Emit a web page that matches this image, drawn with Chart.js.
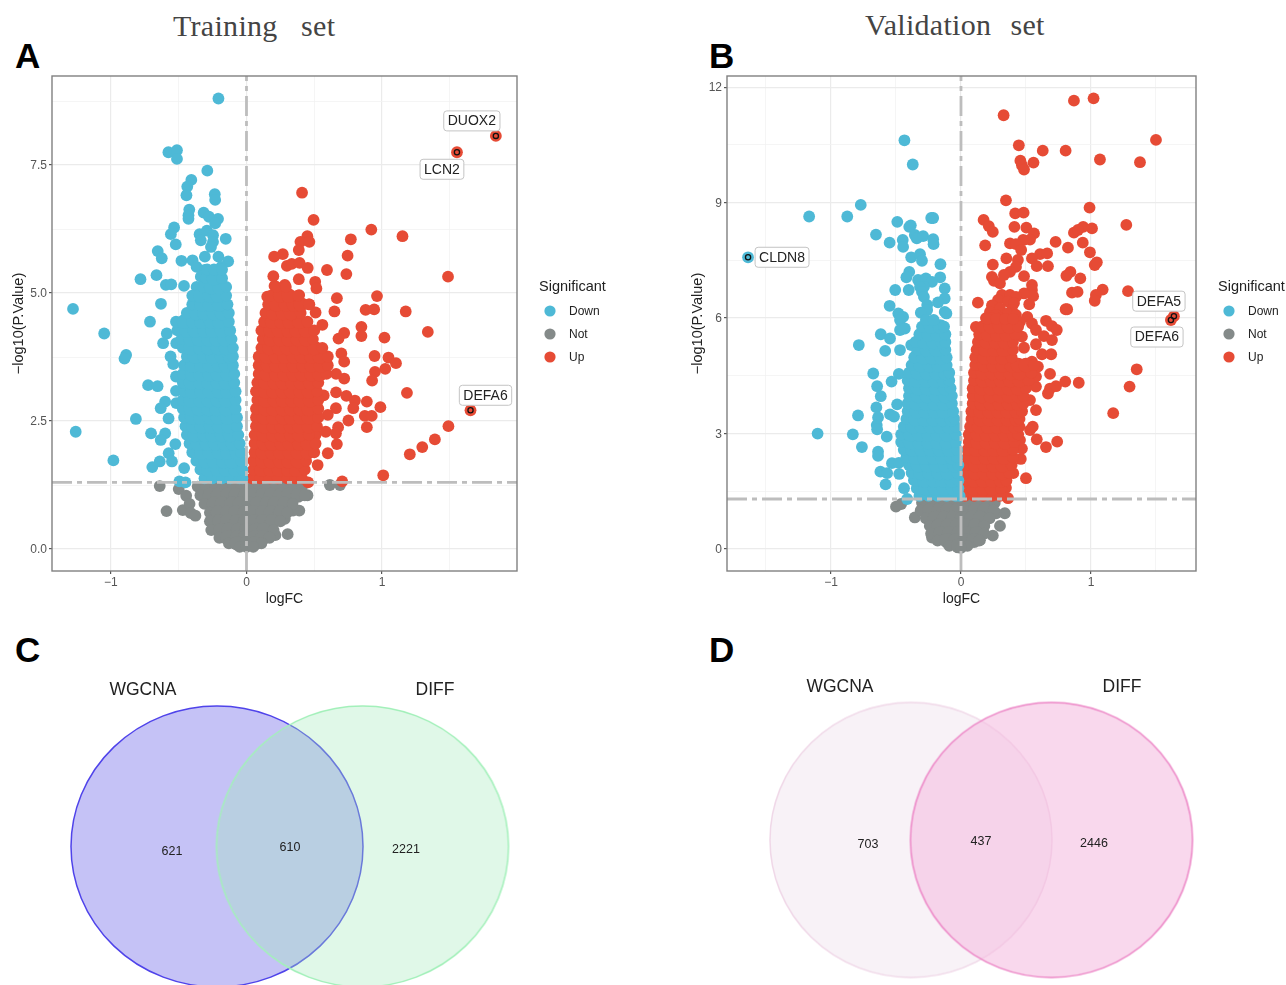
<!DOCTYPE html>
<html>
<head>
<meta charset="utf-8">
<script src="https://cdn.jsdelivr.net/npm/chart.js@4"></script>
<style>
  html, body { margin: 0; padding: 0; background: #fff; }
  body { position: relative; width: 1286px; height: 985px; overflow: hidden; font-family: "Liberation Sans", sans-serif; }
  canvas { position: absolute; }
  .set-title { position: absolute; font-family: "Liberation Serif", serif; font-size: 30px; letter-spacing: .3px; color: #444; white-space: pre; line-height: 34px; }
  .panel { position: absolute; font-weight: bold; font-size: 35px; line-height: 35px; color: #000; }
</style>
</head>
<body>
<div class="set-title" style="left:173px;top:9px">Training   set</div>
<div class="set-title" style="left:865px;top:8px;word-spacing:-1.4px">Validation   set</div>
<div class="panel" style="left:15px;top:38px">A</div>
<div class="panel" style="left:709px;top:38px">B</div>
<div class="panel" style="left:15px;top:632px">C</div>
<div class="panel" style="left:709px;top:632px">D</div>

<canvas id="volcanoA" width="640" height="608" style="left:0;top:0"></canvas>
<canvas id="volcanoB" width="626" height="608" style="left:660px;top:0"></canvas>
<canvas id="vennC" width="640" height="355" style="left:0;top:630px"></canvas>
<canvas id="vennD" width="626" height="355" style="left:660px;top:630px"></canvas>

<script>
const sigLevels = ["Down", "Not", "Up"];
const sigColors = ["#4eb9d6", "#848a89", "#e64b35"];

// training set, single points [logFC, -log10P]
const trainDown = [[-.207,8.8],[-.576,7.75],[-.513,7.79],[-.513,7.62],[-.289,7.39],[-.407,7.21],[-.437,7.08],[-.443,6.91],[-.234,6.93],[-.231,6.82],[-.422,6.63],[-.428,6.52],[-.428,6.45],[-.316,6.57],[-.277,6.49],[-.21,6.45],[-.231,6.36],[-.534,6.28],[-.558,6.15],[-.346,6.15],[-.292,6.22],[-.247,6.13],[-.153,6.06],[-.337,6.03],[-.247,6],[-.522,5.95],[-.262,5.9],[-.655,5.82],[-.625,5.68],[-.48,5.63],[-.398,5.64],[-.307,5.71],[-.207,5.71],[-.135,5.62],[-.368,5.51],[-.307,5.45],[-.186,5.51],[-.337,5.32],[-.782,5.27],[-.664,5.35],[-.595,5.16],[-.555,5.17],[-.461,5.14],[-.368,5.12],[-.2,5.19],[-.631,4.79],[-1.28,4.69],[-.712,4.44],[-1.05,4.21],[-.588,4.21],[-.615,4.02],[-.518,4.02],[-.888,3.79],[-.9,3.72],[-.56,3.76],[-.54,3.61],[-.726,3.2],[-.656,3.18],[-.52,3.37],[-.52,3.09],[-.6,2.88],[-.633,2.75],[-.518,2.85],[-.816,2.54],[-.575,2.55],[-1.26,2.29],[-.704,2.26],[-.6,2.26],[-.633,2.13],[-.525,2.05],[-.574,1.87],[-.982,1.73],[-.64,1.71],[-.695,1.6],[-.55,1.71],[-.46,1.58],[-.495,1.32],[-.45,1.3]];
const trainUp = [[.41,6.96],[.495,6.43],[.921,6.24],[1.151,6.11],[.77,6.05],[.449,6.11],[.398,6],[.464,6],[.386,5.84],[.268,5.76],[.204,5.71],[.746,5.73],[.298,5.53],[.334,5.57],[.392,5.59],[.452,5.49],[.594,5.45],[.737,5.37],[1.487,5.32],[.198,5.33],[.386,5.27],[.507,5.22],[.516,5.09],[.283,5.16],[.207,5.14],[.667,4.9],[.963,4.94],[.649,4.64],[.879,4.67],[.942,4.68],[1.175,4.64],[.153,4.93],[.298,4.99],[.389,4.96],[.464,4.78],[.51,4.62],[.56,4.38],[.848,4.34],[.848,4.16],[1.338,4.24],[1.018,4.13],[.721,4.22],[.679,4.11],[.7,3.82],[.721,3.66],[.945,3.77],[1.048,3.74],[1.103,3.63],[1.024,3.52],[.948,3.46],[.927,3.29],[.721,3.33],[.661,3.42],[1.184,3.05],[.661,3.06],[.737,2.99],[.8,2.9],[.788,2.75],[.888,2.88],[.988,2.77],[.873,2.6],[.924,2.6],[.752,2.51],[.888,2.38],[1.49,2.4],[1.39,2.14],[1.297,1.99],[1.205,1.85],[1.009,1.44],[.706,1.32],[.455,1.3],[.667,2.05],[.6,1.87],[.525,1.64],[.676,2.38],[.51,2.23],[.585,2.29],[.66,2.26],[.6,2.62],[.66,2.75],[.57,3]];
const trainNot = [[-.64,1.23],[.615,1.25],[.69,1.25],[-.5,1.17],[-.445,1.04],[-.59,.74],[-.47,.76],[-.42,.88],[-.41,.7],[-.377,.65],[.39,.75],[.343,.75],[.45,1.05],[.283,.59],[.304,.29],[.213,.27]];

// training set, crowded middle of each cloud: [-log10P, logFC, logFC, ...]
const trainDownRows = [
  [1.38,-.31,-.25,-.18,-.12,-.05,-.03],[1.55,-.34,-.28,-.21,-.15,-.08,-.03],[1.72,-.37,-.30,-.24,-.17,-.11,-.04],
  [1.89,-.40,-.33,-.27,-.20,-.14,-.07,-.04],[2.06,-.42,-.36,-.29,-.23,-.16,-.10,-.05],[2.23,-.44,-.38,-.31,-.25,-.18,-.12,-.06],
  [2.40,-.45,-.39,-.33,-.26,-.20,-.13,-.07],[2.57,-.46,-.40,-.34,-.27,-.21,-.14,-.07],[2.74,-.47,-.41,-.35,-.28,-.22,-.15,-.08],
  [2.91,-.47,-.41,-.34,-.28,-.21,-.15,-.08],[3.08,-.46,-.40,-.33,-.27,-.20,-.14,-.08],[3.25,-.47,-.41,-.34,-.28,-.21,-.15,-.09],
  [3.42,-.47,-.40,-.34,-.27,-.21,-.14,-.09],[3.59,-.46,-.40,-.33,-.27,-.20,-.15,-.10],[3.76,-.44,-.38,-.31,-.25,-.18,-.12,-.10],
  [3.93,-.47,-.41,-.34,-.28,-.21,-.15,-.10],[4.10,-.48,-.41,-.35,-.28,-.22,-.16,-.11],[4.27,-.51,-.44,-.38,-.31,-.25,-.18,-.12],
  [4.44,-.52,-.46,-.39,-.33,-.26,-.20,-.13],[4.61,-.44,-.37,-.31,-.24,-.18,-.13],[4.78,-.40,-.33,-.27,-.20,-.14],
  [4.95,-.40,-.34,-.27,-.21,-.15],[5.12,-.32,-.26,-.20,-.15],[5.29,-.30,-.24,-.18],[5.46,-.29,-.24,-.18]
];
const trainUpRows = [
  [1.38,.04,.10,.17,.23,.30,.36,.41],[1.55,.05,.11,.18,.24,.31,.37,.43],[1.72,.05,.12,.18,.25,.31,.38,.44],
  [1.89,.06,.12,.19,.25,.32,.38,.45,.50],[2.06,.06,.13,.19,.26,.32,.39,.45,.51],[2.23,.06,.13,.20,.26,.33,.39,.46],
  [2.40,.07,.13,.20,.26,.33,.39,.46,.52],[2.57,.07,.13,.20,.27,.33,.40,.46,.53],[2.74,.07,.14,.20,.27,.33,.40,.46,.53],
  [2.91,.08,.14,.21,.27,.34,.40,.47,.53],[3.08,.07,.14,.20,.27,.33,.40,.46,.52],[3.25,.08,.14,.21,.27,.34,.40,.47,.53],
  [3.42,.09,.15,.22,.28,.35,.41,.48,.54,.59],[3.59,.09,.16,.22,.29,.35,.42,.48,.55,.60],[3.76,.09,.15,.22,.28,.35,.41,.48,.54,.60],
  [3.93,.11,.17,.24,.30,.37,.43,.50,.56],[4.10,.12,.18,.25,.31,.38,.44,.49],[4.27,.11,.18,.24,.31,.37,.44,.50],
  [4.44,.13,.19,.26,.32,.39,.45],[4.61,.14,.20,.27,.33,.40],[4.78,.16,.22,.29,.35,.40,.46],[4.95,.18,.25,.31,.38],[5.12,.22,.29]
];
const trainNotRows = [
  [1.22,-.36,-.30,-.23,-.17,-.10,-.04,.03,.09,.16,.22,.29,.35,.41],[1.05,-.34,-.27,-.21,-.14,-.08,-.01,.05,.12,.18,.25,.31,.38,.43],
  [.88,-.31,-.24,-.18,-.11,-.05,.02,.08,.15,.21,.28,.34],[.71,-.27,-.21,-.14,-.08,-.01,.05,.12,.18,.25,.30],
  [.54,-.27,-.20,-.14,-.07,-.01,.06,.12,.19,.25],[.37,-.26,-.19,-.13,-.06,0,.07,.13,.20],
  [.22,-.20,-.14,-.07,-.01,.06,.12,.17],[.11,-.13,-.07,0,.06,.11],[.04,-.05,0,.05]
];

// validation set
const validDown = [[-1.638,7.58],[-1.168,8.64],[-.875,8.64],[-.771,8.94],[-.435,10.62],[-.371,9.99],[-.49,8.5],[-.398,8.37],[-.386,8.41],[-.229,8.6],[-.214,8.6],[-.654,8.17],[-.549,7.96],[-.448,8.03],[-.445,7.85],[-.355,8.16],[-.34,8.07],[-.291,8.13],[-.214,8.05],[-.211,7.92],[-.383,7.58],[-.315,7.66],[-.3,7.49],[-.158,7.4],[-.398,7.2],[-.42,7.06],[-.33,6.99],[-.27,7.03],[-.16,7.06],[-.223,6.94],[-.285,6.81],[-.315,6.81],[-.3,6.68],[-.285,6.55],[-.125,6.77],[-.125,6.51],[-.177,6.41],[-.506,6.73],[-.402,6.73],[-.549,6.32],[-.482,6.12],[-.445,6.03],[-.26,6.34],[-.26,6.21],[-.309,6.14],[-.125,6.16],[-.112,6.12],[-.617,5.58],[-.546,5.47],[-.786,5.3],[-.583,5.15],[-.469,5.17],[-.675,4.56],[-.478,4.55],[-.534,4.35],[-.645,4.23],[-.617,3.97],[-.651,3.68],[-.491,3.76],[-.792,3.47],[-.638,3.42],[-.546,3.5],[-.515,3.44],[-.648,3.22],[-.645,3.11],[-1.103,3],[-.832,2.98],[-.571,2.92],[-.762,2.65],[-.638,2.53],[-.638,2.42],[-.531,2.23],[-.478,2.24],[-.62,2.01],[-.568,1.97],[-.475,1.95],[-.58,1.68],[-.438,1.58],[-.414,1.3],[-.469,5.95],[-.469,5.69],[-.432,5.73],[-.383,5.3],[-.346,5.04],[-.362,1.79]];
const validUp = [[.328,11.27],[.869,11.65],[1.02,11.71],[1.5,10.63],[.445,10.49],[.629,10.35],[.805,10.35],[.457,10.09],[.558,10.04],[1.069,10.12],[1.377,10.05],[.469,9.97],[.485,9.86],[.346,9.06],[.989,8.87],[.417,8.72],[.482,8.74],[.174,8.55],[.214,8.39],[.245,8.24],[.411,8.37],[.503,8.35],[.562,8.2],[1.272,8.42],[.94,8.37],[.869,8.22],[.9,8.29],[1.008,8.33],[.531,8.04],[.478,8.03],[.377,7.94],[.423,7.92],[.186,7.89],[.728,7.98],[.937,7.96],[.823,7.83],[.992,7.71],[.463,7.77],[.608,7.66],[.663,7.68],[.546,7.55],[.349,7.55],[.438,7.51],[.245,7.39],[.583,7.35],[.669,7.35],[.423,7.33],[.377,7.2],[1.029,7.38],[1.045,7.45],[.842,7.2],[.811,7.1],[.918,7.03],[.485,7.09],[.238,7.07],[.254,6.97],[.3,6.9],[.33,7.12],[.546,6.86],[.546,6.73],[1.09,6.74],[1.285,6.7],[.854,6.66],[.897,6.68],[1.038,6.6],[1.029,6.45],[.555,6.57],[.485,6.64],[.13,6.4],[.525,6.36],[.805,6.23],[.817,6.23],[.315,6.6],[.377,6.6],[.423,6.55],[.285,6.47],[.362,6.43],[.408,6.39],[.238,6.33],[.3,6.25],[.392,6.21],[.223,6.16],[.269,6.08],[.362,6.12],[.423,6.08],[.192,6],[.238,6],[.3,6],[.51,6.03],[.654,5.93],[.454,5.9],[.546,5.86],[.577,5.69],[.7,5.79],[.737,5.69],[.638,5.53],[.7,5.43],[.577,5.32],[.469,5.52],[.485,5.23],[.623,5.06],[.694,5.06],[.115,5.77],[.685,4.55],[.802,4.35],[.906,4.32],[.731,4.23],[.685,4.17],[.669,4.04],[.577,4.22],[.577,4.48],[.592,4.74],[.546,4.87],[.531,3.87],[.577,3.61],[.552,3.18],[.531,3.09],[.583,2.85],[.654,2.65],[.74,2.79],[.46,2.34],[.402,1.97],[.5,1.84],[.346,1.59],[.362,1.32],[1.171,3.53],[1.297,4.22],[1.352,4.67],[.469,2.61],[.454,2.83]];
const validNot = [[-.5,1.1],[-.46,1.17],[-.355,.82],[.337,.93],[.3,.6],[.245,.35],[.146,.23],[-.223,.3],[.27,.93]];

const validDownRows = [
  [1.38,-.32,-.25,-.18,-.11,-.04,-.01],[1.58,-.34,-.27,-.20,-.13,-.06,-.02],[1.78,-.35,-.28,-.21,-.14,-.07,-.02],
  [1.98,-.38,-.31,-.24,-.17,-.10,-.03],[2.18,-.40,-.33,-.26,-.19,-.12,-.05,-.02],[2.38,-.42,-.35,-.28,-.21,-.14,-.07,-.03],
  [2.58,-.44,-.37,-.30,-.23,-.16,-.09,-.03],[2.78,-.46,-.39,-.32,-.25,-.18,-.11,-.04],[2.98,-.46,-.39,-.32,-.25,-.18,-.11,-.04],
  [3.18,-.44,-.37,-.30,-.23,-.16,-.09,-.04],[3.38,-.42,-.35,-.28,-.21,-.14,-.07,-.05],[3.58,-.41,-.34,-.27,-.20,-.13,-.06],
  [3.78,-.41,-.34,-.27,-.20,-.13,-.07],[3.98,-.40,-.33,-.26,-.19,-.12,-.07],[4.18,-.40,-.33,-.26,-.19,-.12,-.08],
  [4.38,-.41,-.34,-.27,-.20,-.13,-.09],[4.58,-.40,-.33,-.26,-.19,-.12,-.09],[4.78,-.38,-.31,-.24,-.17,-.11],
  [4.98,-.36,-.29,-.22,-.15,-.11],[5.18,-.33,-.26,-.19,-.12],[5.38,-.35,-.28,-.21,-.14,-.12],[5.58,-.32,-.25,-.18,-.12],
  [5.78,-.30,-.23,-.16,-.13],[5.95,-.27,-.21]
];
const validUpRows = [
  [1.38,.03,.10,.17,.24,.30],[1.58,.03,.10,.17,.24,.31],[1.78,.03,.10,.17,.24,.31,.35],[1.98,.04,.11,.18,.25,.32,.37],
  [2.18,.04,.11,.18,.25,.32,.39],[2.38,.05,.12,.19,.26,.33,.40],[2.58,.05,.12,.19,.26,.33,.40],[2.78,.06,.13,.20,.27,.34,.41],
  [2.98,.06,.13,.20,.27,.34,.41,.44],[3.18,.07,.14,.21,.28,.35,.42,.45],[3.38,.08,.15,.22,.29,.36,.43,.45],[3.58,.08,.15,.22,.29,.36,.43,.47],
  [3.78,.09,.16,.23,.30,.37,.44,.48],[3.98,.09,.16,.23,.30,.37,.44,.48],[4.18,.09,.16,.23,.30,.37,.44,.50],[4.38,.10,.17,.24,.31,.38,.45,.52],
  [4.58,.10,.17,.24,.31,.38,.45,.54],[4.78,.11,.18,.25,.32,.39,.44,.50,.56],[4.98,.11,.18,.25,.32,.39],[5.18,.12,.19,.26,.33,.40],
  [5.38,.13,.20,.27,.34,.40],[5.58,.14,.21,.28,.35,.42],[5.78,.16,.23,.30,.37,.44],[5.98,.20,.27,.34,.40]
];
const validNotRows = [
  [1.2,-.30,-.23,-.16,-.09,-.02,.05,.12,.19,.26],[1.0,-.31,-.24,-.17,-.10,-.03,.04,.11,.18,.25],[.8,-.27,-.20,-.13,-.06,.01,.08,.15,.22],
  [.6,-.24,-.17,-.10,-.03,.04,.11,.18],[.4,-.23,-.16,-.09,-.02,.05,.12,.18],[.22,-.18,-.11,-.04,.03,.10,.14],[.08,-.09,-.02,.05],[.03,0]
];

// labelled genes: name, logFC, -log10P
const trainGenes = [["DUOX2",1.84,8.07],["LCN2",1.553,7.75],["DEFA6",1.653,2.71]];
const validGenes = [["CLDN8",-1.638,7.58],["DEFA5",1.638,6.05],["DEFA6",1.615,5.95]];
// where each label box sits from its point, in pixels
const trainGeneOffsets = [[-24,-15],[-15,17],[15,-15]];
const validGeneOffsets = [[34,0],[-15,-15],[-14,17]];

const logFCCutoff = 0;
const pCutoff = 1.3;

const trainXTicks = [-1,0,1], trainXMinor = [-.5,.5,1.5];
const trainYTicks = [0,2.5,5,7.5], trainYMinor = [1.25,3.75,6.25,8.75];
const validXTicks = [-1,0,1], validXMinor = [-1.5,-.5,.5,1.5];
const validYTicks = [0,3,6,9,12], validYMinor = [1.5,4.5,7.5,10.5];

// venn
const vennSets = ["WGCNA", "DIFF"];
const vennCCounts = [621, 610, 2221];
const vennDCounts = [703, 437, 2446];

const dotSize = 5.9;
const coreSize = 7.4; // overplotted middle of a cloud, closes the gaps between estimated points

const toPoints = arr => arr.map(([x, y]) => ({x, y}));
const geneToPoints = arr => arr.map(g => ({x: g[1], y: g[2]}));
const rowsToPoints = rows => rows.flatMap(([y, ...xs], r) => xs.map((x, i) => ({
  x, y, core: r > 0 && r < rows.length - 1 && i > 0 && i < xs.length - 1
})));

const boxPlugin = {
  id: "panelExtras",
  afterDraw(chart, args, opts) {
    const {ctx, chartArea: a, scales} = chart;
    ctx.save();
    ctx.strokeStyle = "#808080";
    ctx.lineWidth = 1.4;
    ctx.strokeRect(a.left, a.top, a.right - a.left, a.bottom - a.top);

    // gene label boxes
    ctx.font = "14px 'Liberation Sans'";
    ctx.textAlign = "center";
    ctx.textBaseline = "middle";
    opts.genes.forEach((g, i) => {
      const px = scales.x.getPixelForValue(g[1]) + opts.offsets[i][0];
      const py = scales.y.getPixelForValue(g[2]) + opts.offsets[i][1];
      const w = ctx.measureText(g[0]).width + 8;
      ctx.beginPath();
      ctx.roundRect(px - w / 2, py - 10, w, 20, 3);
      ctx.fillStyle = "#fff";
      ctx.fill();
      ctx.strokeStyle = "#c4c4c4";
      ctx.lineWidth = 1;
      ctx.stroke();
      ctx.fillStyle = "#222";
      ctx.fillText(g[0], px, py + .5);
    });

    // legend to the right of the panel
    ctx.textAlign = "left";
    ctx.fillStyle = "#222";
    ctx.font = "14.5px 'Liberation Sans'";
    ctx.fillText("Significant", a.right + 22, 287);
    ctx.font = "12px 'Liberation Sans'";
    sigLevels.forEach((lab, i) => {
      const ly = 311 + i * 23;
      ctx.beginPath();
      ctx.arc(a.right + 33, ly, 5.6, 0, Math.PI * 2);
      ctx.fillStyle = sigColors[i];
      ctx.fill();
      ctx.fillStyle = "#222";
      ctx.fillText(lab, a.right + 52, ly + 1);
    });
    ctx.restore();
  }
};

function volcano(id, cfg) {
  const minorGrid = (ctx, list) => list.includes(ctx.tick.value);
  const cutLine = (pts) => ({
    type: "line", data: pts, order: 0, borderColor: "#bdbdbd", borderWidth: 2.8,
    borderDash: [20, 5, 5, 5], pointRadius: 0, fill: false, tension: 0, clip: false
  });
  const pointSet = (i, pts, order) => ({
    label: sigLevels[i], data: pts, order, backgroundColor: sigColors[i], borderWidth: 0,
    pointRadius: c => c.raw && c.raw.core ? coreSize : dotSize
  });
  return new Chart(document.getElementById(id), {
    type: "scatter",
    plugins: [boxPlugin],
    data: {
      datasets: [
        pointSet(1, cfg.not, 4),
        pointSet(2, cfg.up, 3),
        pointSet(0, cfg.down, 2),
        { label: "genes", data: geneToPoints(cfg.genes), order: 1, pointRadius: 2.6,
          backgroundColor: "rgba(0,0,0,0)", borderColor: "#111", borderWidth: 1.3 },
        cutLine([{x: logFCCutoff, y: cfg.yMin}, {x: logFCCutoff, y: cfg.yMax}]),
        cutLine([{x: cfg.xMin, y: pCutoff}, {x: cfg.xMax, y: pCutoff}])
      ]
    },
    options: {
      responsive: false,
      animation: false,
      events: [],
      layout: { padding: { top: 76, right: cfg.padRight, left: 0, bottom: 0 } },
      plugins: {
        legend: { display: false },
        tooltip: { enabled: false },
        panelExtras: { genes: cfg.genes, offsets: cfg.offsets }
      },
      scales: {
        x: {
          type: "linear", min: cfg.xMin, max: cfg.xMax,
          afterFit: s => { s.height = 37; },
          afterBuildTicks: s => { s.ticks = cfg.xTicks.concat(cfg.xMinor).sort((a, b) => a - b).map(value => ({value})); },
          border: { display: false },
          grid: {
            color: c => minorGrid(c, cfg.xMinor) ? "#f3f3f3" : "#ebebeb",
            lineWidth: c => minorGrid(c, cfg.xMinor) ? .8 : 1.2,
            tickLength: 3,
            tickColor: c => minorGrid(c, cfg.xMinor) ? "rgba(0,0,0,0)" : "#555"
          },
          ticks: {
            autoSkip: false, maxRotation: 0, padding: 1, color: "#555", font: { size: 12, family: "Liberation Sans" },
            callback: v => cfg.xTicks.includes(v) ? (v < 0 ? "\u2212" + Math.abs(v) : String(v)) : ""
          },
          title: { display: true, text: "logFC", color: "#222", font: { size: 14, family: "Liberation Sans" }, padding: { top: 0, bottom: 0 } }
        },
        y: {
          type: "linear", min: cfg.yMin, max: cfg.yMax,
          afterFit: s => { s.width = cfg.axisWidth; },
          afterBuildTicks: s => { s.ticks = cfg.yTicks.concat(cfg.yMinor).sort((a, b) => a - b).map(value => ({value})); },
          border: { display: false },
          grid: {
            color: c => minorGrid(c, cfg.yMinor) ? "#f3f3f3" : "#ebebeb",
            lineWidth: c => minorGrid(c, cfg.yMinor) ? .8 : 1.2,
            tickLength: 3,
            tickColor: c => minorGrid(c, cfg.yMinor) ? "rgba(0,0,0,0)" : "#555"
          },
          ticks: {
            autoSkip: false, padding: 2, labelOffset: 1, color: "#555", font: { size: 12, family: "Liberation Sans" },
            callback: v => cfg.yTicks.includes(v) ? cfg.yFmt(v) : ""
          },
          title: { display: true, text: "\u2212log10(P.Value)", color: "#222", font: { size: 14.5, family: "Liberation Sans" }, padding: { top: cfg.titlePad, bottom: 0 } }
        }
      }
    }
  });
}

volcano("volcanoA", {
  down: toPoints(trainDown).concat(rowsToPoints(trainDownRows)),
  up: toPoints(trainUp).concat(rowsToPoints(trainUpRows), geneToPoints(trainGenes)),
  not: toPoints(trainNot).concat(rowsToPoints(trainNotRows)),
  genes: trainGenes, offsets: trainGeneOffsets,
  xMin: -1.435, xMax: 1.996, yMin: -.43, yMax: 9.24,
  xTicks: trainXTicks, xMinor: trainXMinor, yTicks: trainYTicks, yMinor: trainYMinor,
  yFmt: v => v.toFixed(1), axisWidth: 52, padRight: 123, titlePad: 10
});

volcano("volcanoB", {
  down: toPoints(validDown).concat(rowsToPoints(validDownRows)),
  up: toPoints(validUp).concat(rowsToPoints(validUpRows), geneToPoints(validGenes.slice(1))),
  not: toPoints(validNot).concat(rowsToPoints(validNotRows)),
  genes: validGenes, offsets: validGeneOffsets,
  xMin: -1.8, xMax: 1.808, yMin: -.571, yMax: 12.29,
  xTicks: validXTicks, xMinor: validXMinor, yTicks: validYTicks, yMinor: validYMinor,
  yFmt: v => String(v), axisWidth: 67, padRight: 90, titlePad: 29
});

function ellipseStyle(rx, ry, fill, stroke, width) {
  const c = document.createElement("canvas");
  c.width = Math.ceil(rx * 2 + 6);
  c.height = Math.ceil(ry * 2 + 6);
  const g = c.getContext("2d");
  g.beginPath();
  g.ellipse(c.width / 2, c.height / 2, rx, ry, 0, 0, Math.PI * 2);
  g.fillStyle = fill;
  g.fill();
  g.strokeStyle = stroke;
  g.lineWidth = width;
  g.stroke();
  return c;
}

const vennText = {
  id: "vennText",
  afterDraw(chart, args, opts) {
    const {ctx, scales} = chart;
    ctx.save();
    ctx.textAlign = "center";
    ctx.textBaseline = "middle";
    ctx.fillStyle = "#222";
    ctx.font = "17.5px 'Liberation Sans'";
    vennSets.forEach((s, i) => ctx.fillText(s, scales.x.getPixelForValue(opts.namePos[i][0]), scales.y.getPixelForValue(opts.namePos[i][1])));
    ctx.font = "12.5px 'Liberation Sans'";
    opts.counts.forEach((n, i) => ctx.fillText(String(n), scales.x.getPixelForValue(opts.countPos[i][0]), scales.y.getPixelForValue(opts.countPos[i][1])));
    ctx.restore();
  }
};

function venn(id, cfg) {
  return new Chart(document.getElementById(id), {
    type: "scatter",
    plugins: [vennText],
    data: {
      datasets: [0, 1].map(i => ({
        label: vennSets[i], data: [{x: cfg.centers[i][0], y: cfg.centers[i][1]}], order: 2 - i,
        pointStyle: ellipseStyle(cfg.rx, cfg.ry, cfg.fills[i], cfg.strokes[i], 1.5), pointRadius: 10
      }))
    },
    options: {
      responsive: false,
      animation: false,
      events: [],
      layout: { padding: 0, autoPadding: false },
      plugins: {
        legend: { display: false },
        tooltip: { enabled: false },
        vennText: { counts: cfg.counts, namePos: cfg.namePos, countPos: cfg.countPos }
      },
      scales: {
        x: { type: "linear", display: false, min: 0, max: cfg.w },
        y: { type: "linear", display: false, min: 0, max: 355, reverse: true }
      }
    }
  });
}

venn("vennC", {
  w: 640, centers: [[217,216.5],[362.5,216.5]], rx: 146, ry: 140.5,
  fills: ["rgb(197,194,246)", "rgba(160,234,185,.33)"], strokes: ["#4f43ea", "#a3f0ba"],
  counts: vennCCounts, namePos: [[143,60.5],[435,60.5]], countPos: [[172,221.5],[290,217.5],[406,219.5]]
});
venn("vennD", {
  w: 626, centers: [[251,210],[391.5,210]], rx: 141, ry: 137.5,
  fills: ["rgb(248,242,247)", "rgba(245,190,225,.6)"], strokes: ["#f0d8e8", "#ec86c6"],
  counts: vennDCounts, namePos: [[180,57.5],[462,57.5]], countPos: [[208,214.5],[321,211.5],[434,213.5]]
});
</script>
</body>
</html>
